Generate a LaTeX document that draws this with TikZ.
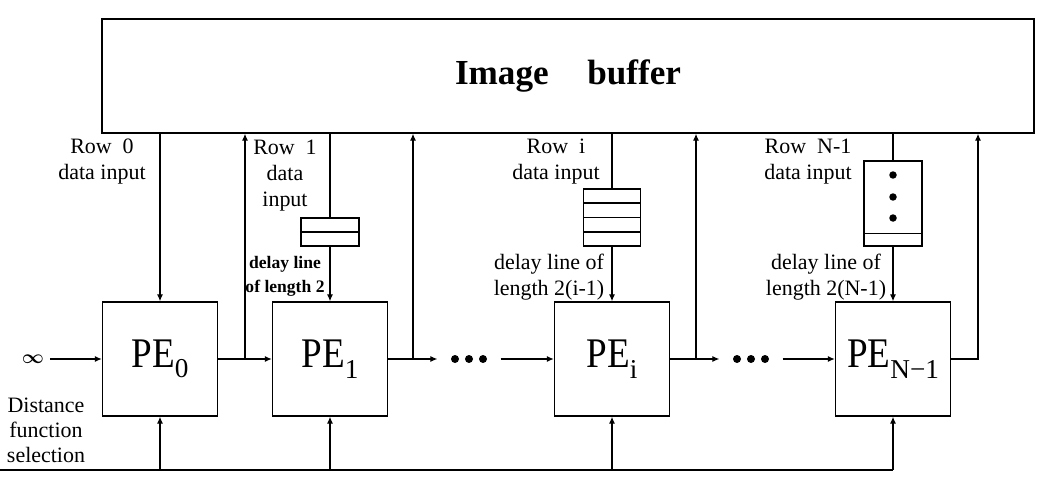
\documentclass[tikz,border=0pt]{standalone}
\usepackage{fontspec}
\setmainfont{Liberation Serif}
\usepackage{tikz}
\usetikzlibrary{arrows.meta}
\usetikzlibrary{calc}

\newcommand{\pename}[1]{\scalebox{0.88}[1]{PE}\raisebox{-0.55ex}{\fontsize{15.5}{15.5}\selectfont #1}}

\begin{document}
\begin{tikzpicture}[x=0.02cm, y=-0.02cm, line width=0.7pt, >={Latex[length=4pt,width=3.5pt]}]
  % Define the label fonts and box styles
  \def\labelfont{\fontsize{12.5}{14.8}\selectfont}
  \tikzset{
    pebox/.style={draw, line width=0.8pt, minimum width=2.3cm, minimum height=2.28cm, inner sep=0pt, font=\fontsize{24}{24}\selectfont},
    delaybox/.style={draw, minimum width=1.16cm, inner sep=0pt},
    rowlabel/.style={align=center, inner sep=0pt, font=\labelfont},
    dotsbox/.style={minimum width=1.24cm, inner sep=0pt}
  }

  \useasboundingbox (0,0) rectangle (1043,476);

  % Draw the image buffer
  \node[draw, line width=0.8pt, minimum width=18.64cm, minimum height=2.28cm,
        font=\bfseries\fontsize{20}{20}\selectfont] (buf) at (568,76) {Image\hspace{22pt}buffer};

  % Draw the processing elements
  \node[pebox] (pe0) at (160,359) {\pename{0}};
  \node[pebox] (pe1) at (330,359) {\pename{1}};
  \node[pebox] (pei) at (612,359) {\pename{i}};
  \node[pebox] (pen) at (893,359) {\pename{N−1}};

  % Draw the delay lines
  \node[delaybox, minimum height=0.56cm] (d1) at (330,232) {};
  \node[delaybox, minimum width=1.14cm, minimum height=1.14cm] (di) at (612,217.5) {};
  \node[delaybox, minimum height=1.7cm] (dn) at (893,203.5) {};
  \draw (d1.west) -- (d1.east);
  \foreach \f in {0.25,0.5,0.75} {
    \draw ($(di.north west)!\f!(di.south west)$) -- ($(di.north east)!\f!(di.south east)$);
  }
  \draw ($(dn.north west)!0.85!(dn.south west)$) -- ($(dn.north east)!0.85!(dn.south east)$);
  \foreach \y in {175,197,218} {
    \fill (893,\y) circle (0.075cm);
  }

  % Draw the row data inputs
  \draw[->] (pe0.north |- buf.south) -- (pe0.north);
  \draw (pe1.north |- buf.south) -- (d1.north);
  \draw[->] (d1.south) -- (pe1.north);
  \draw (pei.north |- buf.south) -- (di.north);
  \draw[->] (di.south) -- (pei.north);
  \draw (pen.north |- buf.south) -- (dn.north);
  \draw[->] (dn.south) -- (pen.north);

  % Draw the chain of processing elements
  \node[inner sep=3pt, font=\boldmath\fontsize{11}{11}\selectfont] (inf) at (33,359) {$\infty$};
  \node[dotsbox] (dots1) at (469,359) {};
  \node[dotsbox] (dots2) at (751,359) {};
  \foreach \d in {dots1,dots2} {
    \foreach \dx in {-14,0,14} {
      \fill (\d.center) ++(\dx,0) circle (0.08cm);
    }
  }
  \draw[->] (inf) -- (pe0.west);
  \draw[->] (pe0.east) -- (pe1.west);
  \draw[->] (pe1.east) -- (dots1.west);
  \draw[->] (dots1.east) -- (pei.west);
  \draw[->] (pei.east) -- (dots2.west);
  \draw[->] (dots2.east) -- (pen.west);

  % Draw the outputs back to the buffer
  \coordinate (j0) at (245,359);
  \coordinate (j1) at (413,359);
  \coordinate (j2) at (696,359);
  \coordinate (jn) at (978,359);
  \foreach \j in {j0,j1,j2} {
    \draw[->] (\j) -- (\j |- buf.south);
  }
  \draw[->] (pen.east) -- (jn) -- (jn |- buf.south);

  % Draw the distance function selection bus
  \coordinate (bl) at (0,470);
  \draw (bl) -- (pen.south |- bl);
  \foreach \p in {pe0,pe1,pei,pen} {
    \draw[->] (\p.south |- bl) -- (\p.south);
  }

  % Labels
  \node[rowlabel] (r0) at (102,162) {Row\ \ 0\\data input};
  \node[rowlabel] (r1) at (285,176) {Row\ \ 1\\data\\input};
  \node[rowlabel] (ri) at (556,162) {Row\ \ i\\data input};
  \node[rowlabel] (rn) at (808,162) {Row\ \ N-1\\data input};
  \node[rowlabel, font=\bfseries\fontsize{10}{13.5}\selectfont] (l1) at (285,276) {delay line\\of length 2};
  \node[rowlabel] (li) at (549,277) {delay line of\\length 2(i-1)};
  \node[rowlabel] (ln) at (826,277) {delay line of\\length 2(N-1)};
  \node[rowlabel, font=\fontsize{12.5}{14.2}\selectfont] (sel) at (46,430) {Distance\\function\\selection};

\end{tikzpicture}
\end{document}
